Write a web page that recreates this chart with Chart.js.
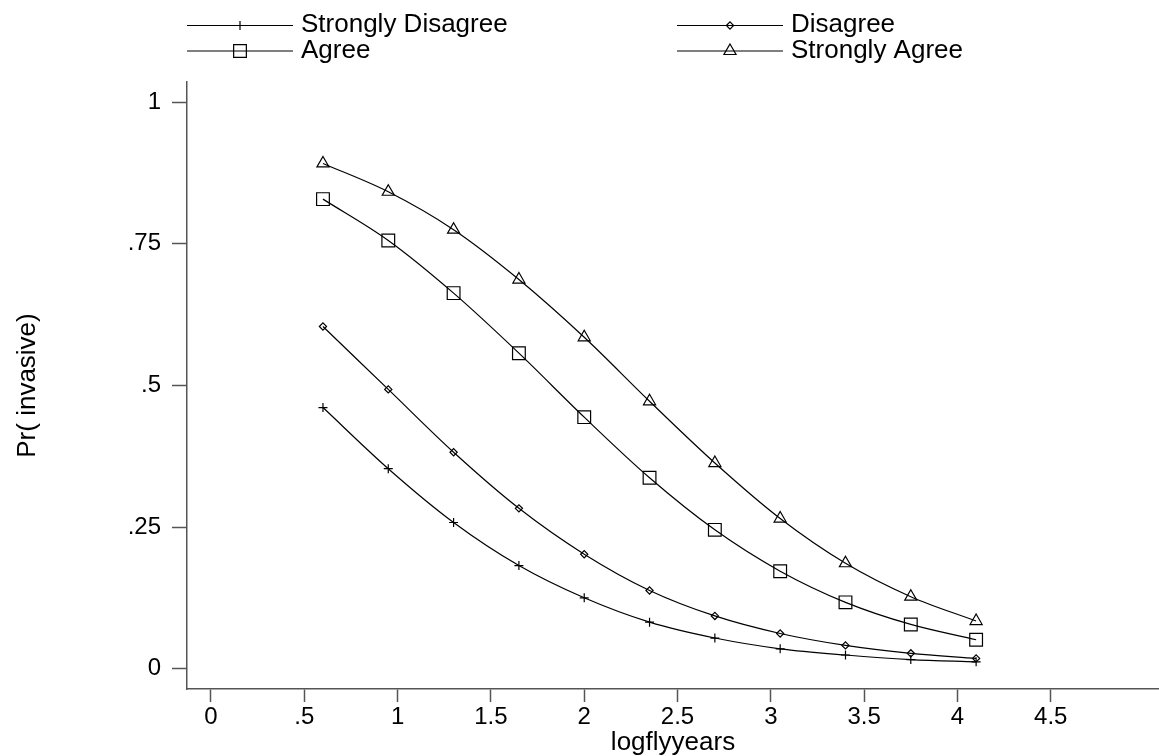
<!DOCTYPE html>
<html>
<head>
<meta charset="utf-8">
<title>Pr( invasive) by logflyyears</title>
<script src="https://cdn.jsdelivr.net/npm/chart.js@4/dist/chart.umd.min.js"></script>
<style>
  html, body { margin: 0; padding: 0; background: #fff; }
  canvas { display: block; }
</style>
</head>
<body>
<canvas id="myChart" width="1159" height="756"></canvas>
<script>
(() => {
  'use strict'

  // predicted probabilities along logflyyears
  const logflyyears = [0.6, 0.95, 1.3, 1.65, 2.0, 2.35, 2.7, 3.05, 3.4, 3.75, 4.1]
  const stronglyDisagree = [0.461, 0.353, 0.258, 0.182, 0.125, 0.082, 0.054, 0.035, 0.024, 0.016, 0.012]
  const disagree = [0.604, 0.493, 0.382, 0.283, 0.202, 0.138, 0.093, 0.062, 0.041, 0.027, 0.018]
  const agree = [0.829, 0.756, 0.663, 0.557, 0.444, 0.337, 0.245, 0.172, 0.117, 0.078, 0.051]
  const stronglyAgree = [0.892, 0.842, 0.775, 0.687, 0.585, 0.472, 0.363, 0.265, 0.186, 0.127, 0.084]

  const seriesNames = ['Strongly Disagree', 'Disagree', 'Agree', 'Strongly Agree']
  const xTicks = [0, 0.5, 1, 1.5, 2, 2.5, 3, 3.5, 4, 4.5]
  const yTicks = [0, 0.25, 0.5, 0.75, 1]

  const FONT = '"Liberation Sans", Arial, Helvetica, sans-serif'
  const AXIS = '#555555'

  const markers = [
    { pointStyle: 'cross', radius: 4.5 },
    { pointStyle: 'rectRot', radius: 3.6 },
    { pointStyle: 'rect', radius: 9 },
    { pointStyle: 'triangle', radius: 7 }
  ]

  const toPoints = ys => logflyyears.map((x, i) => ({ x: x, y: ys[i] }))
  const stripZero = v => String(v).replace(/^0\./, '.')

  const datasets = [stronglyDisagree, disagree, agree, stronglyAgree].map((ys, i) => ({
    label: seriesNames[i],
    data: toPoints(ys),
    borderColor: '#000',
    borderWidth: 1.2,
    backgroundColor: 'rgba(0,0,0,0)',
    pointStyle: markers[i].pointStyle,
    pointRadius: markers[i].radius,
    pointBorderWidth: 1.2,
    pointBorderColor: '#000',
    pointBackgroundColor: 'rgba(0,0,0,0)',
    cubicInterpolationMode: 'monotone',
    fill: false
  }))

  // two-column legend: line with the marker on it, then the name
  const lineLegend = {
    id: 'lineLegend',
    afterDraw(chart) {
      const ctx = chart.ctx
      const cols = [187, 677]
      const rows = [25.5, 51]
      const lineLen = 106
      ctx.save()
      chart.data.datasets.forEach((ds, i) => {
        const x = cols[i % 2]
        const y = rows[Math.floor(i / 2)]
        ctx.strokeStyle = '#000'
        ctx.lineWidth = 1.2
        ctx.beginPath()
        ctx.moveTo(x, y)
        ctx.lineTo(x + lineLen, y)
        ctx.stroke()
        ctx.fillStyle = 'rgba(0,0,0,0)'
        Chart.helpers.drawPoint(ctx, {
          pointStyle: ds.pointStyle,
          radius: ds.pointRadius,
          borderWidth: 1.2,
          rotation: 0
        }, x + lineLen / 2, y)
        ctx.fillStyle = '#000'
        ctx.font = '26px ' + FONT
        ctx.textAlign = 'left'
        ctx.textBaseline = 'middle'
        ctx.fillText(ds.label, x + lineLen + 8, y - 0.5)
      })
      ctx.restore()
    }
  }

  const ctx = document.getElementById('myChart')
  // eslint-disable-next-line no-unused-vars
  const myChart = new Chart(ctx, {
    type: 'line',
    data: { datasets: datasets },
    plugins: [lineLegend],
    options: {
      responsive: false,
      animation: false,
      devicePixelRatio: 1,
      layout: {
        autoPadding: false,
        padding: { top: 82, left: 0, right: 0, bottom: 0 }
      },
      plugins: {
        legend: { display: false },
        tooltip: { enabled: false }
      },
      scales: {
        x: {
          type: 'linear',
          bounds: 'data',
          min: -0.1286,
          max: 5.08,
          afterBuildTicks: scale => { scale.ticks = xTicks.map(v => ({ value: v })) },
          afterFit: scale => { scale.height = 67 },
          border: { display: true, color: AXIS, width: 1.5 },
          grid: {
            drawOnChartArea: false,
            drawTicks: true,
            tickLength: 13,
            tickWidth: 1.5,
            tickColor: AXIS,
            color: AXIS
          },
          ticks: {
            color: '#000',
            padding: 1,
            maxRotation: 0,
            autoSkip: false,
            font: { family: FONT, size: 24 },
            callback: v => stripZero(v)
          },
          title: {
            display: true,
            text: 'logflyyears',
            color: '#000',
            font: { family: FONT, size: 26, lineHeight: 1 },
            padding: { top: 0, bottom: 0 }
          }
        },
        y: {
          type: 'linear',
          bounds: 'data',
          min: -0.036,
          max: 1.0358,
          afterBuildTicks: scale => { scale.ticks = yTicks.map(v => ({ value: v })) },
          afterFit: scale => { scale.width = 187 },
          border: { display: true, color: AXIS, width: 1.5 },
          grid: {
            drawOnChartArea: false,
            drawTicks: true,
            tickLength: 15,
            tickWidth: 1.5,
            tickColor: AXIS,
            color: AXIS
          },
          ticks: {
            color: '#000',
            padding: 11,
            autoSkip: false,
            font: { family: FONT, size: 24 },
            callback: v => stripZero(v)
          },
          title: {
            display: true,
            text: 'Pr( invasive)',
            color: '#000',
            font: { family: FONT, size: 26, lineHeight: 1.2 },
            padding: { top: 12, bottom: 0 }
          }
        }
      }
    }
  })
})()
</script>
</body>
</html>
